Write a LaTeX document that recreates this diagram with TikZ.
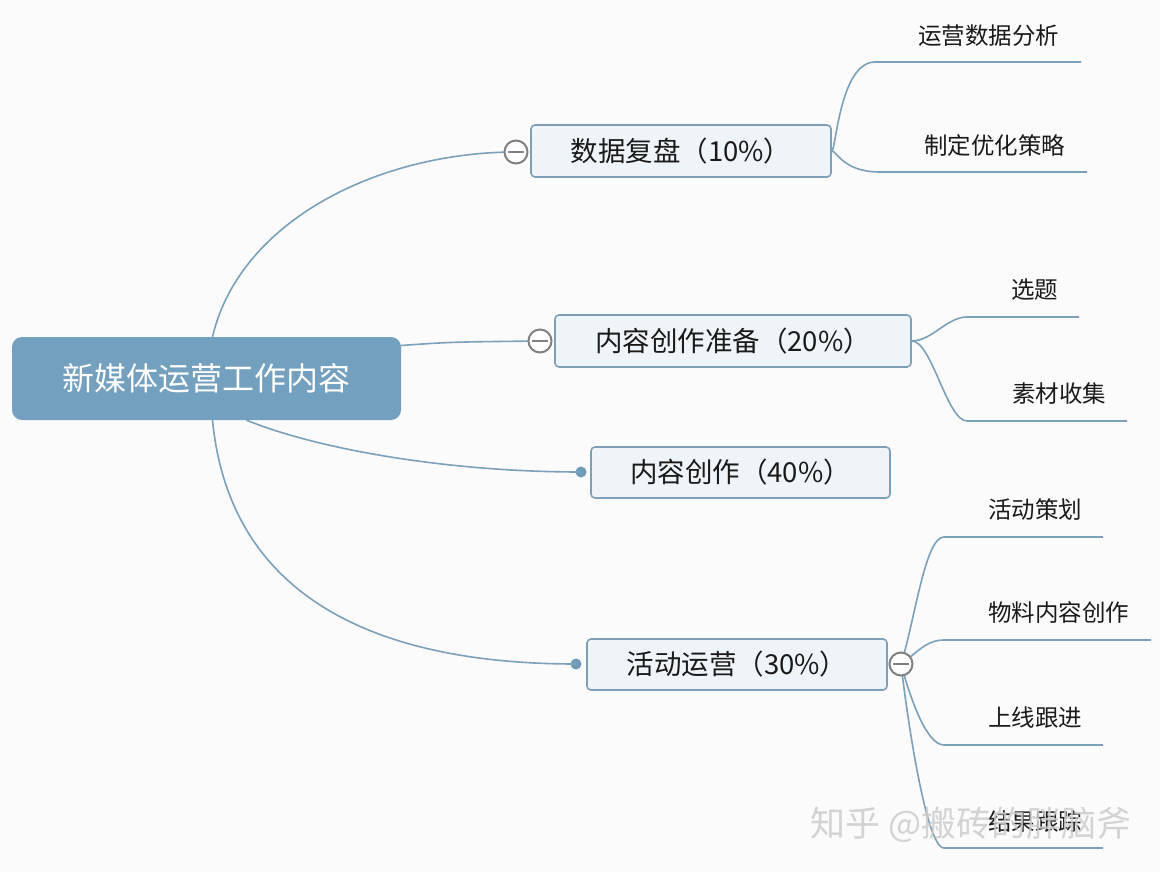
\documentclass[tikz,border=0pt]{standalone}
\usepackage{fontspec}
\setmainfont{Noto Sans CJK SC}
\definecolor{bgc}{HTML}{FBFBFB}
\definecolor{rootc}{HTML}{73A0BF}
\definecolor{linec}{HTML}{7BA0BA}
\definecolor{boxfill}{HTML}{EFF4F8}
\definecolor{boxdraw}{HTML}{7E9FB8}
\definecolor{txtc}{HTML}{1A1A1A}
\definecolor{circc}{HTML}{808080}
\definecolor{dotc}{HTML}{6F9BBB}
\begin{document}
\begin{tikzpicture}[x=1pt,y=-1pt,
  rootbox/.style={rectangle,rounded corners=10pt,fill=rootc,text=white,minimum height=83pt,inner sep=0pt,font=\fontsize{32}{38}\selectfont},
  mainbox/.style={rectangle,rounded corners=4pt,fill=boxfill,draw=boxdraw,line width=1.6pt,text=txtc,minimum height=52pt,inner sep=0pt,font=\fontsize{27.5}{33}\selectfont},
  leaftext/.style={anchor=west,inner sep=0pt,text=txtc,font=\fontsize{23.5}{28}\selectfont},
  conn/.style={draw=linec,line width=1.6pt},
  collapse/.style={circle,draw=circc,fill=white,line width=2pt,minimum size=23pt,inner sep=0pt,
    path picture={\draw[circc,line width=2pt] ([xshift=-8pt]path picture bounding box.center) -- ([xshift=8pt]path picture bounding box.center);}},
  dotmark/.style={circle,fill=dotc,minimum size=11pt,inner sep=0pt}
]
\useasboundingbox[fill=bgc] (0,0) rectangle (1160,872);

% root
\node[rootbox,minimum width=389pt] (root) at (206.5,378.5) {新媒体运营工作内容};

% main topics
\node[mainbox,minimum width=300pt] (m1) at (681,151) {数据复盘（10\%）};
\node[mainbox,minimum width=356pt] (m2) at (733,341) {内容创作准备（20\%）};
\node[mainbox,minimum width=299pt,minimum height=51pt] (m3) at (740.5,472.5) {内容创作（40\%）};
\node[mainbox,minimum width=300pt,minimum height=51pt] (m4) at (737,664.5) {活动运营（30\%）};

% markers
\node[dotmark] (d3) at (581,472) {};
\node[dotmark] (d4) at (576,664) {};

% connector anchor points on root
\coordinate (r1) at ([xshift=6pt]root.north);
\coordinate (r2) at ([yshift=33pt]root.east);
\coordinate (r3) at ([xshift=40pt]root.south);
\coordinate (r4) at ([xshift=6pt]root.south);

% leaf underline coordinates
\coordinate (a1s) at (875,62);   \coordinate (a1e) at (1081,62);
\coordinate (a2s) at (880,172);  \coordinate (a2e) at (1087,172);
\coordinate (b1s) at (967,317);  \coordinate (b1e) at (1079,317);
\coordinate (b2s) at (967,421);  \coordinate (b2e) at (1127,421);
\coordinate (e1s) at (944,537);  \coordinate (e1e) at (1103,537);
\coordinate (e2s) at (944,640);  \coordinate (e2e) at (1151,640);
\coordinate (e3s) at (944,745);  \coordinate (e3e) at (1103,745);
\coordinate (e4s) at (944,848);  \coordinate (e4e) at (1103,848);

\coordinate (c1p) at (516,152);
\coordinate (c2p) at (540,341);
\coordinate (c4p) at (901,664);

% connectors root -> topics
\draw[conn] (r1) .. controls (240,220) and (380,152) .. (c1p);
\draw[conn] (r2) .. controls (450,342) .. (c2p);
\draw[conn] (r3) .. controls (320,450) and (450,472) .. (d3.center);
\draw[conn] (r4) .. controls (230,600) and (380,664) .. (d4.center);

% topic -> leaves
\draw[conn] (m1.east) .. controls +(4,0) and +(-35,0) .. (a1s) -- (a1e);
\draw[conn] (m1.east) .. controls +(5,0) and +(-37,0) .. (a2s) -- (a2e);
\draw[conn] (m2.east) .. controls +(20,0) and +(-20,0) .. (b1s) -- (b1e);
\draw[conn] (m2.east) .. controls +(20,0) and +(-20,0) .. (b2s) -- (b2e);
\draw[conn] (c4p) .. controls (915,620) and (925,537) .. (e1s) -- (e1e);
\draw[conn] (c4p) .. controls (915,655) and (925,640) .. (e2s) -- (e2e);
\draw[conn] (c4p) .. controls (908,690) and (925,745) .. (e3s) -- (e3e);
\draw[conn] (c4p) .. controls (905,700) and (925,848) .. (e4s) -- (e4e);

% collapse buttons
\node[collapse] (c1) at (c1p) {};
\node[collapse] (c2) at (c2p) {};
\node[collapse] (c4) at (c4p) {};

% leaf texts
\node[leaftext] (t1) at ([xshift=43pt,yshift=26pt]a1s) {运营数据分析};
\node[leaftext] (t2) at ([xshift=44pt,yshift=26pt]a2s) {制定优化策略};
\node[leaftext] (t3) at ([xshift=44pt,yshift=27pt]b1s) {选题};
\node[leaftext] (t4) at ([xshift=45pt,yshift=27pt]b2s) {素材收集};
\node[leaftext] (t5) at ([xshift=44pt,yshift=27pt]e1s) {活动策划};
\node[leaftext] (t6) at ([xshift=44pt,yshift=27pt]e2s) {物料内容创作};
\node[leaftext] (t7) at ([xshift=44pt,yshift=27pt]e3s) {上线跟进};
\node[leaftext] (t8) at ([xshift=44pt,yshift=26pt]e4s) {结果跟踪};

% watermark
\node[anchor=west,inner sep=0pt,text=black!20,opacity=0.85,font=\fontsize{35}{41}\selectfont] (wm) at (810,825) {知乎 @搬砖的胖脑斧};
\end{tikzpicture}
\end{document}
